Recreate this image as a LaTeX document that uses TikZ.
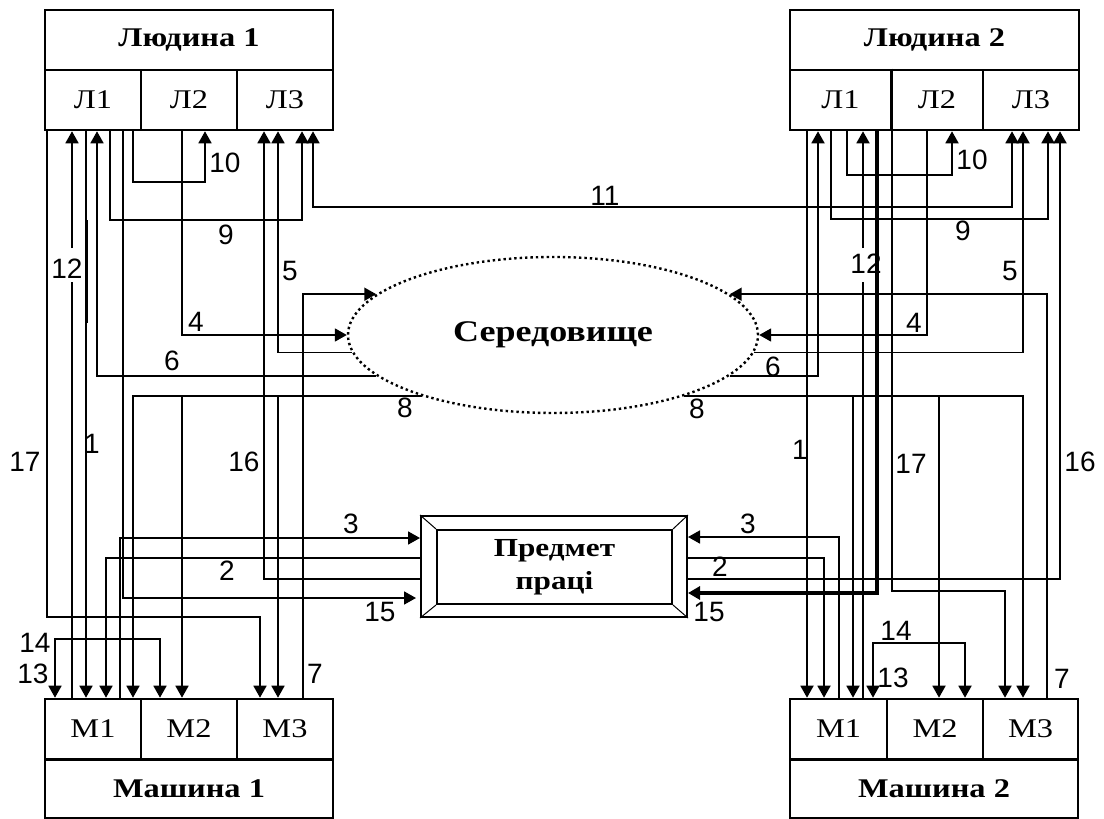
\documentclass[tikz,border=0pt]{standalone}
\usepackage{fontspec}
\setmainfont[FakeStretch=1.2]{Liberation Serif}
\newfontfamily\numfont{Liberation Sans}
\usetikzlibrary{arrows.meta,shapes.geometric}

\begin{document}
\begin{tikzpicture}[
    x=1pt,y=-1pt,
    box/.style={draw,line width=2.6pt,inner sep=0pt,minimum height=60pt},
    head/.style={box,font=\fontsize{27}{30}\selectfont\bfseries},
    cell/.style={box,font=\fontsize{27}{30}\selectfont},
    link/.style={line width=1.8pt},
    arr/.style={link,-{Triangle[length=12pt,width=13pt]}},
    both/.style={link,{Triangle[length=12pt,width=13pt]}-{Triangle[length=12pt,width=13pt]}},
    num/.style={font=\numfont\fontsize{28}{30}\selectfont,inner sep=0pt}
]
\useasboundingbox (0,0) rectangle (1104,819);

% People (top) and machines (bottom), each with three parts.
\node[head,minimum width=288pt] (hum1) at (189,40) {Людина 1};
\node[head,minimum width=289pt] (hum2) at (934.5,40) {Людина 2};
\foreach \k/\x/\w in {1/93/96pt,2/189/96pt,3/285/96pt}
    \node[cell,minimum width=\w] (L1\k) at (\x,100) {Л\k};
\foreach \k/\x/\w in {1/840.5/101pt,2/937/92pt,3/1031/96pt}
    \node[cell,minimum width=\w] (L2\k) at (\x,100) {Л\k};
\foreach \k/\x/\w in {1/93/96pt,2/189/96pt,3/285/96pt}
    \node[cell,minimum width=\w] (M1\k) at (\x,729) {М\k};
\foreach \k/\x/\w in {1/838.5/97pt,2/935/96pt,3/1030.5/95pt}
    \node[cell,minimum width=\w] (M2\k) at (\x,729) {М\k};
\node[head,minimum width=288pt,minimum height=58pt] (mach1) at (189,789) {Машина 1};
\node[head,minimum width=288pt,minimum height=58pt] (mach2) at (934,789) {Машина 2};

% Environment and the object of labour.
\node[ellipse,draw,line width=2.4pt,dash pattern=on 2.4pt off 3pt,inner sep=0pt,
    minimum width=410pt,minimum height=156pt,
    font=\fontsize{30}{32}\selectfont\bfseries] (env) at (553,335) {Середовище};
\node[draw,line width=2pt,inner sep=0pt,minimum width=266pt,minimum height=101pt]
    (subj) at (554,566.5) {};
\node[draw,line width=2pt,inner sep=0pt,minimum width=235pt,minimum height=74pt,
    align=center,font=\fontsize{26}{33}\selectfont\bfseries] (subjin) at (554.5,567) {Предмет\\праці};
\foreach \c in {north west,north east,south west,south east}
    \draw[line width=1pt] (subj.\c) -- (subjin.\c);

% Left side: Людина 1 <-> Машина 1.
\draw[arr] (47,0 |- L11.south) -- (47,617) -- (260,617) -- (260,0 |- M13.north);   % 17
\draw[link] (72,0 |- M11.north) -- (72,282);                                        % 12
\draw[arr] (72,248) -- (72,0 |- L11.south);
\draw[arr] (86,0 |- L11.south) -- (86,0 |- M11.north);                              % 1
\draw[line width=3pt] (86,220) -- (86,323);
\draw[arr] (env.193) -- (97,0 |- env.193) -- (97,0 |- L11.south);                   % 6
\draw[arr] (110,0 |- L11.south) -- (110,220) -- (302,220) -- (302,0 |- L13.south);  % 9
\draw[arr,shorten >=4pt] (123,0 |- L11.south) -- (123,598) -- (subj.west |- 0,598); % 15
\draw[arr] (133,0 |- L11.south) -- (133,182) -- (205,182) -- (205,0 |- L12.south);  % 10
\draw[arr] (182,0 |- L12.south) -- (182,0 |- env.west) -- (env.west);              % 4
\draw[arr] (env.185) -- (278,0 |- env.185) -- (278,0 |- L13.south);                 % 5
\draw[arr] (subj.west |- 0,579) -- (264,579) -- (264,0 |- L13.south);               % 16
\draw[arr] (303,0 |- M13.north) -- (303,0 |- env.167) -- (env.167);                 % 7
\draw[arr] (env.205) -- (133,0 |- env.205) -- (133,0 |- M11.north);                 % 8
\draw[arr] (182,0 |- env.205) -- (182,0 |- M12.north);
\draw[arr] (278,0 |- env.205) -- (278,0 |- M13.north);
\draw[arr] (subj.west |- 0,558) -- (106,558) -- (106,0 |- M11.north);               % 2
\draw[arr] (120,0 |- M11.north) -- (120,538) -- (subj.west |- 0,538);               % 3
\draw[both] (55,0 |- M11.north) -- (55,639) -- (160,639) -- (160,0 |- M12.north);   % 13, 14

% Between the two people.
\draw[both] (313,0 |- L13.south) -- (313,207) -- (1012,207) -- (1012,0 |- L23.south); % 11

% Right side: Людина 2 <-> Машина 2.
\draw[arr] (807,0 |- L21.south) -- (807,0 |- M21.north);                            % 1
\draw[arr] (env.347) -- (818,0 |- env.347) -- (818,0 |- L21.south);                 % 6
\draw[arr] (831,0 |- L21.south) -- (831,219) -- (1048,219) -- (1048,0 |- L23.south); % 9
\draw[arr] (847,0 |- L21.south) -- (847,175) -- (952,175) -- (952,0 |- L22.south);  % 10
\draw[link] (863,0 |- M21.north) -- (863,282);                                      % 12
\draw[arr] (863,248) -- (863,0 |- L21.south);
\draw[arr,line width=3.5pt] (877,0 |- L21.south) -- (877,593) -- (subj.east |- 0,593); % 15
\draw[arr] (L21.north east) -- (L21.north east |- 0,591) -- (1005,591) -- (1005,0 |- M23.north); % 17
\draw[arr] (927,0 |- L22.south) -- (927,0 |- env.east) -- (env.east);              % 4
\draw[arr] (env.355) -- (1023,0 |- env.355) -- (1023,0 |- L23.south);               % 5
\draw[arr] (subj.east |- 0,579) -- (1060,579) -- (1060,0 |- L23.south);             % 16
\draw[arr] (1047,0 |- M23.north) -- (1047,0 |- env.13) -- (env.13);                 % 7
\draw[arr] (env.335) -- (1023,0 |- env.335) -- (1023,0 |- M23.north);               % 8
\draw[arr] (853,0 |- env.335) -- (853,0 |- M21.north);
\draw[arr] (939,0 |- env.335) -- (939,0 |- M22.north);
\draw[arr] (subj.east |- 0,558) -- (824,558) -- (824,0 |- M21.north);               % 2
\draw[arr] (839,0 |- M21.north) -- (839,537) -- (subj.east |- 0,537);               % 3
\draw[both] (873,0 |- M21.north) -- (873,643) -- (965,643) -- (965,0 |- M22.north); % 13, 14

% Connector numbers.
\foreach \t/\x/\y [count=\i] in {10/225/163,9/226/235,12/67/269,5/290/271,4/196/322,
        6/172/361,8/405/408,17/25/462,1/92/444,16/244/462,3/351/524,2/227/571,
        15/380/612,14/35/643,13/33/674,7/315/674,11/605/196,
        10/972/160,9/963/231,12/866/264,5/1010/271,4/914/323,6/773/367,8/697/409,
        1/800/450,17/911/464,16/1080/462,3/748/524,2/720/567,15/709/612,
        14/896/631,13/893/678,7/1062/679}
    \node[num] (num\i) at (\x,\y) {\t};
\end{tikzpicture}
\end{document}
